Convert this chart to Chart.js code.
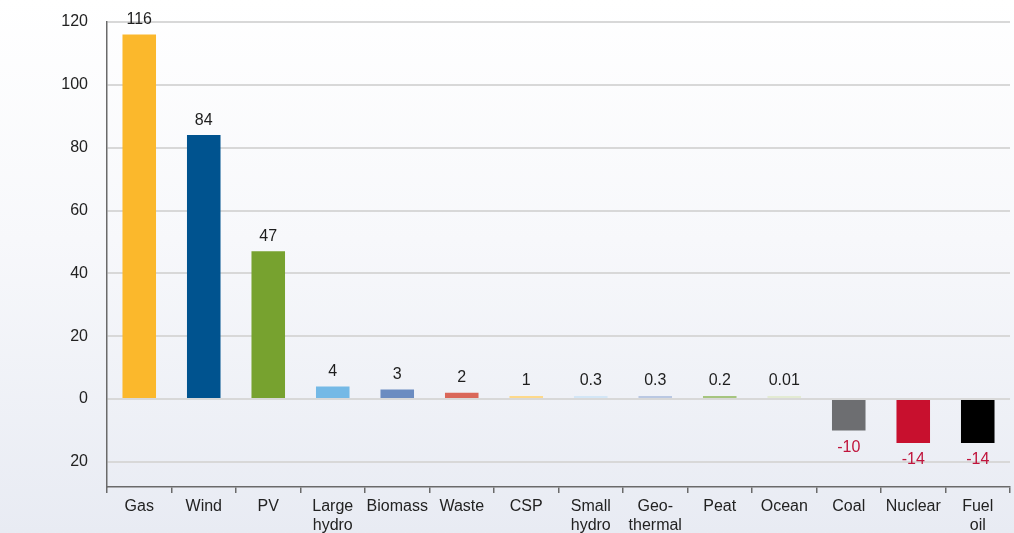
<!DOCTYPE html>
<html>
<head>
<meta charset="utf-8">
<script src="https://cdn.jsdelivr.net/npm/chart.js@4/dist/chart.umd.min.js"></script>
<style>
  html, body { margin: 0; padding: 0; overflow: hidden; }
  body { width: 1014px; height: 533px; background: linear-gradient(to bottom, #ffffff 0%, #f7f8fb 45%, #e8ebf3 100%); }
  #wrap { width: 1014px; height: 548px; }
</style>
</head>
<body>
<div id="wrap"><canvas id="chart"></canvas></div>
<script>
// categories
const categories = [['Gas'], ['Wind'], ['PV'], ['Large', 'hydro'], ['Biomass'], ['Waste'], ['CSP'],
  ['Small', 'hydro'], ['Geo-', 'thermal'], ['Peat'], ['Ocean'], ['Coal'], ['Nuclear'], ['Fuel', 'oil']];
// net capacity change (GW)
const values = [116, 84, 47, 4, 3, 2, 1, 0.3, 0.3, 0.2, 0.01, -10, -14, -14];
const valueLabels = ['116', '84', '47', '4', '3', '2', '1', '0.3', '0.3', '0.2', '0.01', '-10', '-14', '-14'];
const barColors = ['#fbb82c', '#00538f', '#77a22f', '#74b9e6', '#6b8cc1', '#da6759', '#fdd98b',
  '#d3e6f6', '#bac8e2', '#a6c57f', '#e3ebd3', '#6d6e71', '#c8102e', '#000000'];
const yTicks = [-20, 0, 20, 40, 60, 80, 100, 120];

const FONT = '"Liberation Sans Narrow", "Liberation Sans", Arial, sans-serif';

// подписи значений над/под столбцами
const valueLabelPlugin = {
  id: 'valueLabels',
  afterDatasetsDraw(chart) {
    const ctx = chart.ctx;
    const meta = chart.getDatasetMeta(0);
    ctx.save();
    ctx.font = '16px ' + FONT;
    ctx.textAlign = 'center';
    ctx.textBaseline = 'middle';
    meta.data.forEach((bar, i) => {
      const v = values[i];
      if (v >= 0) {
        ctx.fillStyle = '#1e1e1e';
        ctx.fillText(valueLabels[i], bar.x, Math.min(bar.y, bar.base) - 15);
      } else {
        ctx.fillStyle = '#c0143c';
        ctx.fillText(valueLabels[i], bar.x, Math.max(bar.y, bar.base) + 17);
      }
    });
    ctx.restore();
  }
};

new Chart(document.getElementById('chart'), {
  type: 'bar',
  data: {
    labels: categories,
    datasets: [{
      data: values,
      backgroundColor: barColors,
      borderWidth: 0,
      barPercentage: 0.52,
      categoryPercentage: 1.0,
      minBarLength: 3
    }]
  },
  options: {
    responsive: true,
    maintainAspectRatio: false,
    animation: false,
    layout: { padding: { top: 22, right: 4, left: 0, bottom: 0 } },
    plugins: { legend: { display: false }, tooltip: { enabled: false } },
    scales: {
      x: {
        afterFit(scale) { scale.height = 61; },
        grid: {
          display: true,
          offset: true,
          drawOnChartArea: false,
          drawTicks: true,
          tickLength: 6,
          color: '#6a6a6a',
          lineWidth: 1.5
        },
        border: { display: true, color: '#6a6a6a', width: 1.5 },
        ticks: {
          color: '#222',
          font: { family: FONT, size: 16 },
          padding: 4,
          maxRotation: 0,
          autoSkip: false
        }
      },
      y: {
        min: -28,
        max: 120,
        afterFit(scale) {
          scale.width = 107;
          scale.paddingTop = 0;
          scale.paddingBottom = 0;
        },
        afterBuildTicks(scale) { scale.ticks = yTicks.map(v => ({ value: v })); },
        grid: {
          color: '#d8d8d8',
          lineWidth: 2,
          drawTicks: false
        },
        border: { display: true, color: '#6a6a6a', width: 1.5 },
        ticks: {
          color: '#222',
          font: { family: FONT, size: 16 },
          padding: 19,
          callback: v => String(Math.abs(v))
        }
      }
    }
  },
  plugins: [valueLabelPlugin]
});
</script>
</body>
</html>
